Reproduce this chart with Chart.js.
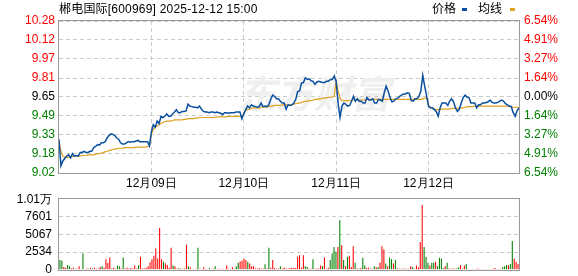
<!DOCTYPE html>
<html><head><meta charset="utf-8">
<script src="https://cdn.jsdelivr.net/npm/chart.js@4/dist/chart.umd.min.js"></script>
<style>
html,body{margin:0;padding:0;background:#fff;width:578px;height:276px;overflow:hidden;position:relative;font-family:"Liberation Sans","Noto Sans CJK SC",sans-serif;}
#c1{position:absolute;left:0;top:0;}
#c2{position:absolute;left:0;top:185px;}
.t{position:absolute;font-size:12px;line-height:14px;color:#000;white-space:nowrap;}
.mk{position:absolute;width:5px;height:3px;}
</style></head><body>
<canvas id="c1" width="578" height="190"></canvas>
<canvas id="c2" width="578" height="99"></canvas>
<div class="t" style="left:59px;top:2px;letter-spacing:0.2px;">郴电国际[600969] 2025-12-12 15:00</div>
<div class="t" style="left:432px;top:2px;">价格</div>
<div class="mk" style="left:462px;top:8px;background:#0b4fa0;"></div>
<div class="t" style="left:478px;top:2px;">均线</div>
<div class="mk" style="left:510px;top:8px;background:#e0a020;"></div>
<script>
const dayLabels = ['12月08日','12月09日','12月10日','12月11日','12月12日'];
const pointsPerDay = 48;
const basePrice = 9.65;
const priceTicks = [9.02, 9.1775, 9.335, 9.4925, 9.65, 9.8075, 9.965, 10.1225, 10.28];
const leftTickLabels = ['9.02','9.18','9.33','9.49','9.65','9.81','9.97','10.12','10.28'];
const rightTickLabels = ['6.54%','4.91%','3.27%','1.64%','0.00%','1.64%','3.27%','4.91%','6.54%'];
const volTicks = [0, 2534, 5067, 7601, 10135];
const volTickLabels = ['0','2534','5067','7601','1.01万'];

const priceD1 = [9.30,9.08,9.12,9.14,9.16,9.17,9.145,9.18,9.16,9.165,9.16,9.19,9.19,9.20,9.19,9.19,9.20,9.20,9.23,9.24,9.255,9.25,9.27,9.27,9.28,9.31,9.33,9.345,9.34,9.33,9.31,9.30,9.27,9.26,9.26,9.27,9.28,9.275,9.28,9.28,9.285,9.29,9.28,9.28,9.28,9.28,9.28,9.245];
const priceD2 = [9.36,9.42,9.40,9.45,9.43,9.49,9.48,9.49,9.51,9.49,9.49,9.51,9.525,9.545,9.52,9.52,9.53,9.53,9.535,9.59,9.575,9.57,9.565,9.565,9.56,9.575,9.55,9.53,9.525,9.525,9.52,9.525,9.525,9.52,9.525,9.52,9.515,9.505,9.52,9.52,9.515,9.52,9.52,9.52,9.525,9.525,9.525,9.47];
const priceD3 = [9.51,9.545,9.575,9.56,9.585,9.575,9.57,9.565,9.57,9.60,9.57,9.575,9.57,9.585,9.63,9.665,9.655,9.635,9.635,9.615,9.60,9.60,9.55,9.585,9.58,9.585,9.60,9.63,9.695,9.70,9.765,9.77,9.81,9.795,9.80,9.785,9.78,9.755,9.775,9.78,9.775,9.77,9.77,9.78,9.78,9.795,9.795,9.825];
const priceD4 = [9.78,9.60,9.48,9.575,9.60,9.59,9.575,9.58,9.615,9.655,9.615,9.635,9.615,9.615,9.60,9.60,9.645,9.625,9.625,9.635,9.60,9.60,9.63,9.625,9.615,9.685,9.74,9.70,9.645,9.61,9.615,9.635,9.64,9.655,9.665,9.675,9.675,9.685,9.68,9.62,9.615,9.635,9.635,9.655,9.70,9.83,9.74,9.66];
const priceD5 = [9.575,9.56,9.56,9.545,9.53,9.49,9.56,9.60,9.60,9.60,9.58,9.615,9.635,9.61,9.56,9.53,9.55,9.60,9.645,9.665,9.65,9.645,9.60,9.60,9.60,9.56,9.585,9.585,9.60,9.60,9.605,9.61,9.625,9.605,9.60,9.60,9.605,9.615,9.625,9.615,9.595,9.585,9.575,9.57,9.52,9.49,9.535,9.56];

const avgD1 = [9.28,9.20,9.16,9.15,9.15,9.15,9.155,9.155,9.16,9.16,9.16,9.16,9.165,9.165,9.165,9.17,9.17,9.17,9.17,9.175,9.18,9.18,9.185,9.19,9.195,9.20,9.205,9.21,9.215,9.22,9.22,9.225,9.225,9.225,9.23,9.23,9.23,9.23,9.23,9.23,9.235,9.235,9.235,9.235,9.235,9.235,9.24,9.24];
const avgD2 = [9.34,9.38,9.40,9.41,9.42,9.43,9.44,9.445,9.45,9.45,9.45,9.455,9.46,9.46,9.46,9.46,9.46,9.465,9.465,9.47,9.47,9.47,9.47,9.475,9.475,9.48,9.48,9.48,9.48,9.48,9.48,9.48,9.48,9.48,9.485,9.485,9.485,9.485,9.485,9.485,9.49,9.49,9.49,9.49,9.49,9.49,9.49,9.49];
const avgD3 = [9.51,9.54,9.545,9.55,9.555,9.56,9.56,9.56,9.56,9.565,9.565,9.565,9.565,9.57,9.575,9.575,9.58,9.58,9.58,9.58,9.585,9.585,9.585,9.585,9.585,9.585,9.59,9.595,9.60,9.60,9.605,9.61,9.615,9.615,9.62,9.62,9.625,9.63,9.63,9.635,9.635,9.64,9.64,9.645,9.645,9.65,9.65,9.655];
const avgD4 = [9.78,9.70,9.64,9.62,9.62,9.62,9.62,9.62,9.625,9.625,9.625,9.625,9.625,9.625,9.625,9.625,9.63,9.63,9.63,9.63,9.63,9.63,9.63,9.63,9.63,9.63,9.63,9.63,9.63,9.63,9.63,9.63,9.63,9.63,9.63,9.63,9.63,9.63,9.63,9.63,9.63,9.63,9.63,9.63,9.63,9.635,9.64,9.645];
const avgD5 = [9.58,9.565,9.555,9.55,9.545,9.545,9.545,9.55,9.55,9.55,9.55,9.55,9.555,9.555,9.555,9.555,9.56,9.56,9.56,9.565,9.57,9.57,9.57,9.57,9.575,9.575,9.575,9.575,9.575,9.575,9.575,9.575,9.575,9.575,9.575,9.575,9.575,9.575,9.575,9.575,9.575,9.575,9.57,9.57,9.565,9.565,9.565,9.565];

const volD1 = [1400,1300,400,300,700,500,200,300,150,150,500,100,2350,100,200,150,300,200,300,150,200,400,500,300,1500,1000,1780,200,300,150,600,500,200,1780,200,300,200,250,200,600,200,650,1880,200,200,300,500,1100];
const volD2 = [1500,2000,3050,1640,6000,1500,1170,940,700,300,3150,600,500,150,250,150,150,200,3600,500,350,100,100,150,3150,150,100,350,100,100,250,100,150,500,100,150,100,150,100,600,150,100,350,150,500,1000,1200,1300];
const volD3 = [1640,1400,1170,900,500,500,200,150,250,150,200,800,200,3150,300,1400,250,150,200,500,200,300,200,150,250,250,300,250,1880,2100,300,2100,500,400,150,150,1500,150,150,200,600,500,1780,150,300,1400,2350,3290];
const volD4 = [2580,3290,7130,3520,1400,500,1880,2020,400,3380,1000,200,200,250,1740,600,300,300,150,150,500,350,400,1030,3380,2900,900,500,1780,1500,900,1400,200,150,150,150,200,150,150,500,350,150,600,350,4000,9290,3290,1880];
const volD5 = [1000,600,1030,1030,1170,500,1740,1640,250,500,1030,200,150,200,150,200,350,700,150,600,850,100,100,100,100,100,200,100,100,100,100,100,100,100,150,250,100,100,150,350,500,700,650,850,4130,1600,1170,850];

const upD1 = [0,0,1,1,0,0,1,1,0,1,1,1,0,1,1,0,1,0,1,1,1,1,0,1,1,1,1,0,1,1,0,0,1,0,1,1,1,1,1,1,1,0,1,1,1,1,1,1];
const upD2 = [1,1,1,1,1,1,0,1,1,1,1,0,1,1,0,1,1,1,1,0,1,1,1,1,0,1,1,1,1,1,0,1,1,0,1,1,1,1,1,1,1,1,1,1,0,0,1,1];
const upD3 = [1,1,0,1,1,1,1,1,1,1,1,0,1,0,1,1,1,1,1,0,1,1,1,1,1,1,1,1,1,1,1,1,0,0,1,1,0,1,1,1,1,0,1,1,1,0,0,0];
const upD4 = [0,1,0,1,0,1,0,1,1,1,0,1,0,1,0,0,1,1,1,1,0,1,0,1,1,1,0,1,0,0,1,0,1,1,1,1,0,1,1,1,0,1,1,1,1,1,0,0];
const upD5 = [0,1,0,0,1,0,0,0,0,1,0,1,0,1,1,0,0,1,1,1,0,1,1,0,1,1,1,1,0,1,1,1,0,1,1,1,1,1,1,0,0,0,1,0,0,1,1,1];

const price = [].concat(priceD1, priceD2, priceD3, priceD4, priceD5);
const avg = [].concat(avgD1, avgD2, avgD3, avgD4, avgD5);
const vol = [].concat(volD1, volD2, volD3, volD4, volD5);
const up = [].concat(upD1, upD2, upD3, upD4, upD5);
const labels = [];
dayLabels.forEach(d => { for (let k = 0; k < pointsPerDay; k++) labels.push(d + ' ' + k); });
const dayTickIdx = [1,2,3,4].map(d => d * pointsPerDay);

const RED = '#ff0000', GREEN = '#008000', BLACK = '#000000';
const FONT = {family: '"Liberation Sans", Arial, sans-serif', size: 12};
function tickColor(v) {
  if (v > basePrice + 1e-6) return RED;
  if (v < basePrice - 1e-6) return GREEN;
  return BLACK;
}
function tIdx(arr, v) { return arr.findIndex(t => Math.abs(t - v) < 1e-6); }

const frame = {
  id: 'frame',
  beforeDatasetsDraw(chart, args, opts) {
    const c = chart.ctx;
    if (opts.watermark) {
      c.save();
      c.fillStyle = '#efefef';
      c.font = 'italic bold 38px "Noto Sans CJK SC", sans-serif';
      c.textBaseline = 'middle';
      c.fillText('东方财富', 238, 94);
      c.restore();
    }
  },
  afterDraw(chart) {
    const a = chart.chartArea, c = chart.ctx;
    c.save();
    c.strokeStyle = '#999999';
    c.lineWidth = 1;
    c.strokeRect(Math.round(a.left) - 0.5, Math.round(a.top) - 0.5, Math.round(a.right - a.left) + 1, Math.round(a.bottom - a.top) + 1);
    c.restore();
  }
};

new Chart(document.getElementById('c1'), {
  type: 'line',
  data: {
    labels: labels,
    datasets: [
      {data: price, borderColor: '#0b4fa0', borderWidth: 1.5, pointRadius: 0, tension: 0},
      {data: avg, borderColor: '#e0a020', borderWidth: 1.2, pointRadius: 0, tension: 0}
    ]
  },
  options: {
    responsive: false, animation: false, events: [],
    layout: {padding: {top: 21, left: 0, right: 0, bottom: 0}},
    plugins: {legend: {display: false}, tooltip: {enabled: false}, frame: {watermark: true}},
    scales: {
      x: {
        type: 'category', offset: false,
        afterBuildTicks: s => { s.ticks = dayTickIdx.map(v => ({value: v})); },
        afterFit: s => { s.height = 17; },
        ticks: {autoSkip: false, maxRotation: 0, minRotation: 0, padding: 3, font: FONT, color: BLACK,
          callback: (v) => dayLabels[dayTickIdx.indexOf(v) + 1]},
        grid: {color: '#cccccc', drawTicks: false, lineWidth: 1},
        border: {display: false, dash: [4, 3]}
      },
      y: {
        position: 'left', min: 9.02, max: 10.28,
        afterBuildTicks: s => { s.ticks = priceTicks.map(v => ({value: v})); },
        afterFit: s => { s.width = 59; },
        ticks: {padding: 4, font: FONT, color: c => tickColor(c.tick.value),
          callback: v => leftTickLabels[tIdx(priceTicks, v)]},
        grid: {color: '#cccccc', drawTicks: false, lineWidth: 1},
        border: {display: false, dash: [4, 3]}
      },
      y2: {
        position: 'right', min: 9.02, max: 10.28,
        afterBuildTicks: s => { s.ticks = priceTicks.map(v => ({value: v})); },
        afterFit: s => { s.width = 59; },
        ticks: {padding: 5, font: FONT, color: c => tickColor(c.tick.value),
          callback: v => rightTickLabels[tIdx(priceTicks, v)]},
        grid: {display: false, drawTicks: false},
        border: {display: false}
      }
    }
  },
  plugins: [frame]
});

new Chart(document.getElementById('c2'), {
  type: 'bar',
  data: {
    labels: labels,
    datasets: [{
      data: vol,
      backgroundColor: up.map(u => u ? RED : GREEN),
      barPercentage: 1, categoryPercentage: 0.55, borderWidth: 0
    }]
  },
  options: {
    responsive: false, animation: false, events: [],
    layout: {padding: {top: 11, left: 0, right: 59, bottom: 0}},
    plugins: {legend: {display: false}, tooltip: {enabled: false}, frame: {watermark: false}},
    scales: {
      x: {display: false, offset: true},
      y: {
        position: 'left', min: 0, max: 10135,
        afterBuildTicks: s => { s.ticks = volTicks.map(v => ({value: v})); },
        afterFit: s => { s.width = 59; },
        ticks: {padding: 7, font: FONT, color: BLACK,
          callback: v => volTickLabels[tIdx(volTicks, v)]},
        grid: {color: c => (c.tick && (c.tick.value === 0 || c.tick.value === 10135)) ? 'rgba(0,0,0,0)' : '#cccccc', drawTicks: false},
        border: {display: false, dash: [4, 3]}
      }
    }
  },
  plugins: [frame]
});
</script>
</body></html>
